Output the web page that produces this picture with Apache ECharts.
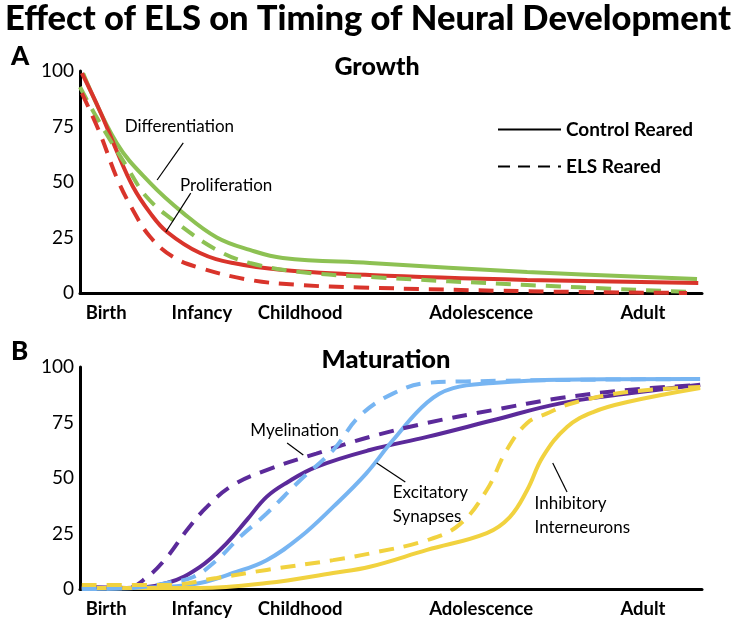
<!DOCTYPE html>
<html><head><meta charset="utf-8">
<script src="https://cdn.jsdelivr.net/npm/echarts@6/dist/echarts.min.js"></script>
<style>html,body{margin:0;padding:0;background:#fff}#c{width:731px;height:620px}</style>
</head><body><div id="c"></div>
<script>
// ---- data ----
const stageNames = ['Birth','Infancy','Childhood','Adolescence','Adult'];
const stagePos = [4.2, 19.6, 35.4, 64.5, 90.5];
const yTicks = [0,25,50,75,100];

// Panel A: Growth  [x, value]
const diffControl = [[0.5,99],[5.9,67.6],[11.3,49.5],[16.6,36],[22,25],[27.3,19.4],[32.6,15.8],[46.6,13.5],[71.9,9.5],[99.2,6.3]];
const diffELS = [[0,92.8],[2.7,79],[7.5,57],[10.8,43],[15.6,31.5],[22,19.4],[27.3,13.5],[35.4,9.5],[46.6,7.2],[71.9,3.6],[97.6,0.5]];
const prolControl = [[0.3,99],[3.2,82],[5.9,64],[8.5,48],[11.3,36],[14,27.5],[19.3,18],[24.6,13.5],[32.6,10.4],[46.6,8.1],[71.9,5.9],[99.4,4.5]];
const prolELS = [[0.3,90],[3.2,72],[5.9,52],[8.5,37.4],[11.3,25.2],[15,16.2],[19.3,11.3],[27.3,5.9],[35.4,3.6],[45,2.5],[71.9,0.8],[97.6,0]];

// Panel B: Maturation
const myelControl = [[0.3,1],[7.5,0.5],[14,2.7],[19.3,10],[23.6,20.7],[26.8,31],[30,41.5],[33.3,48],[38,55],[46.6,62.6],[55.8,68.5],[66.4,76],[77.2,83.6],[88,88],[99.7,92]];
const myelELS = [[0.3,1],[7.5,0.5],[10.8,5.4],[14,14.4],[17.2,26.6],[20.4,37],[24.6,46.8],[30,53.6],[38,61],[46.6,68.5],[55.8,74.8],[66.4,80.6],[77.2,86],[88,89.6],[99.7,92]];
const excControl = [[0.3,0],[14,1],[19.3,2.7],[24.6,7.2],[30,13],[35.4,23.4],[40.7,37],[46,52],[50.3,67],[55.8,84],[60,90.5],[66.4,92.8],[77,94.3],[99.7,94.6]];
const excELS = [[0.3,0],[8.5,0.5],[14,2.7],[18.2,5.4],[22,13],[25.7,23.4],[30,34],[35.4,49],[40.7,62.6],[45,78],[50.3,88],[55.8,92.8],[62,93.5],[80,94.2],[99.7,94.6]];
const inhControl = [[0.3,0.5],[19.3,0.5],[30,2.7],[40.7,7.2],[46.6,10],[55.8,17.6],[65.4,25.2],[69.1,32.4],[71.9,44.6],[74.4,59.5],[78.3,73],[82.5,79.7],[88,84.2],[99.7,90.5]];
const inhELS = [[0.3,1.8],[14,1.8],[22,5],[30,8.6],[40.7,13],[46.6,16],[55.8,22],[61,29],[65.4,44.6],[68.6,62.6],[71.9,74.8],[75,79],[79.3,83.8],[88,88.7],[99.7,91]];

// leader lines and annotation anchors [x, y]
const leadersA = [[[16.6,67.6],[12.4,50.9]], [[17.8,45],[13.8,27.5]]];
const leadersB = [[[33.3,65.8],[35.9,60.4]], [[47.7,56.8],[52.3,48.2]], [[76,56.8],[78.3,43.7]]];
const notesA = [{text:'Differentiation', at:[7.1,74.8]}, {text:'Proliferation', at:[16,48.6]}];
const notesB = [{text:'Myelination', at:[27.3,71.2]}, {text:'Excitatory\nSynapses', at:[50.2,38]}, {text:'Inhibitory\nInterneurons', at:[73,32.9]}];

// ---- chart ----
const FONT = 'Lato';
const GREEN = '#8DC153', RED = '#D9342B', PURPLE = '#5B2A9A', BLUE = '#77B5F2', YELLOW = '#F1D23F';
const DASH = [15, 10];

function xAxisFor(gi){
  return {type:'value', gridIndex:gi, min:0, max:100,
    axisLine:{show:true, lineStyle:{color:'#000', width:3}},
    axisTick:{show:false}, splitLine:{show:false},
    axisLabel:{customValues:stagePos, formatter:(v)=>{const i=stagePos.indexOf(v); return i>=0?stageNames[i]:'';},
      color:'#000', fontFamily:FONT, fontWeight:'bold', fontSize:18.5, margin:11}};
}
function yAxisFor(gi){
  return {type:'value', gridIndex:gi, min:0, max:100, interval:25,
    axisLine:{show:true, lineStyle:{color:'#000', width:3}},
    axisTick:{show:false}, splitLine:{show:false},
    axisLabel:{color:'#000', fontFamily:FONT, fontSize:19, margin:6}};
}
function line(name, data, color, dashed, gi){
  return {type:'line', name:name, xAxisIndex:gi, yAxisIndex:gi, data:data, smooth:0.4, symbol:'none',
    lineStyle:{color:color, width:4, type: dashed?DASH:'solid'}, z: dashed?3:2, silent:true};
}
function annot(gi, leaders, notes){
  return {type:'line', xAxisIndex:gi, yAxisIndex:gi, data:[], symbol:'none', silent:true,
    markLine:{silent:true, symbol:'none', label:{show:false}, lineStyle:{color:'#000', width:1.2, type:'solid'}, animation:false,
      data: leaders.map(l=>[{coord:l[0]},{coord:l[1]}])},
    markPoint:{silent:true, symbol:'circle', symbolSize:1, itemStyle:{color:'rgba(0,0,0,0)'}, animation:false,
      label:{show:true, position:'right', distance:0, color:'#000', fontFamily:FONT, fontSize:17, lineHeight:24, align:'left'},
      data: notes.map(n=>({coord:n.at, label:{formatter:n.text}}))}};
}

const chart = echarts.init(document.getElementById('c'), null, {renderer:'canvas'});
chart.setOption({
  animation:false,
  backgroundColor:'#fff',
  title:[
    {text:'Effect of ELS on Timing of Neural Development', left:0, top:-4, textStyle:{fontFamily:FONT, fontWeight:900, fontSize:34.5, color:'#000'}},
    {text:'A', left:6, top:39, textStyle:{fontFamily:FONT, fontWeight:900, fontSize:26, color:'#000'}},
    {text:'Growth', left:372, textAlign:'center', top:49, textStyle:{fontFamily:FONT, fontWeight:900, fontSize:25, color:'#000'}},
    {text:'B', left:6, top:334, textStyle:{fontFamily:FONT, fontWeight:900, fontSize:26, color:'#000'}},
    {text:'Maturation', left:381, textAlign:'center', top:342, textStyle:{fontFamily:FONT, fontWeight:900, fontSize:25.5, color:'#000'}}
  ],
  legend:{orient:'vertical', left:492, top:115, itemWidth:63, itemHeight:22, itemGap:18,
    data:['Control Reared','ELS Reared'],
    itemStyle:{color:'rgba(0,0,0,0)', borderWidth:0},
    textStyle:{fontFamily:FONT, fontWeight:'bold', fontSize:19, color:'#000'}},
  grid:[
    {left:80, right:29, top:71, height:222},
    {left:80, right:29, top:367, height:222}
  ],
  xAxis:[xAxisFor(0), xAxisFor(1)],
  yAxis:[yAxisFor(0), yAxisFor(1)],
  series:[
    {type:'line', name:'Control Reared', data:[], symbol:'none', lineStyle:{color:'#000', width:3, type:'solid'}, itemStyle:{color:'#000'}},
    {type:'line', name:'ELS Reared', data:[], symbol:'none', lineStyle:{color:'#000', width:3, type:[12,8]}, itemStyle:{color:'#000'}},
    line('Differentiation control', diffControl, GREEN, false, 0),
    line('Differentiation ELS', diffELS, GREEN, true, 0),
    line('Proliferation control', prolControl, RED, false, 0),
    line('Proliferation ELS', prolELS, RED, true, 0),
    line('Myelination control', myelControl, PURPLE, false, 1),
    line('Myelination ELS', myelELS, PURPLE, true, 1),
    line('Excitatory control', excControl, BLUE, false, 1),
    line('Excitatory ELS', excELS, BLUE, true, 1),
    line('Inhibitory control', inhControl, YELLOW, false, 1),
    line('Inhibitory ELS', inhELS, YELLOW, true, 1),
    annot(0, leadersA, notesA),
    annot(1, leadersB, notesB)
  ]
});
</script></body></html>
